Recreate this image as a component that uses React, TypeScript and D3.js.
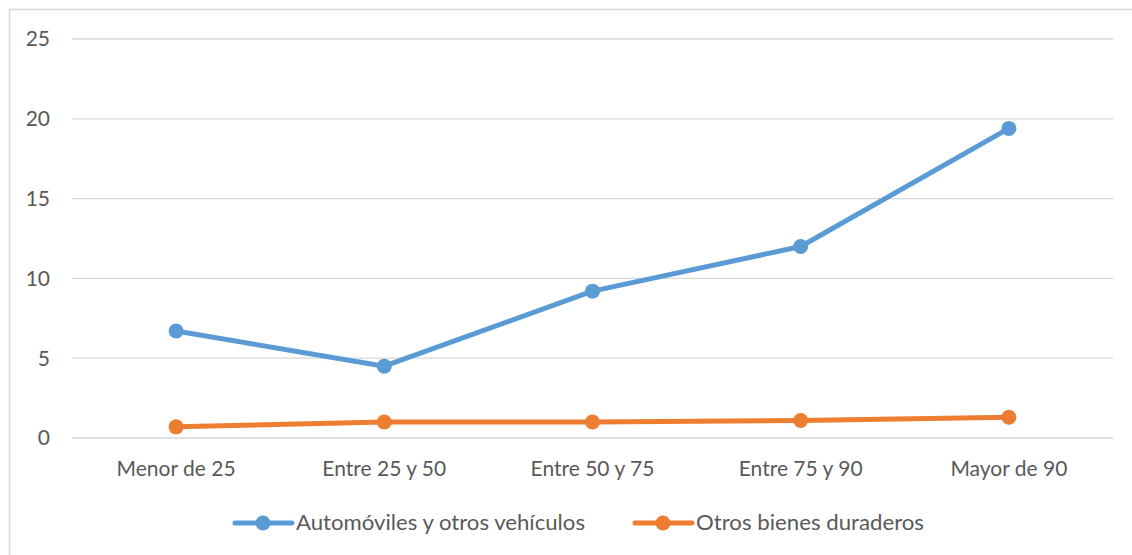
import * as d3 from 'd3';

const categories = ['Menor de 25', 'Entre 25 y 50', 'Entre 50 y 75', 'Entre 75 y 90', 'Mayor de 90'];
const autos = [6.7, 4.5, 9.2, 12.0, 19.4];
const otros = [0.7, 1.0, 1.0, 1.1, 1.3];
const yTicks = [0, 5, 10, 15, 20, 25];

const series = [
  { name: 'Automóviles y otros vehículos', values: autos, color: '#5B9BD5' },
  { name: 'Otros bienes duraderos', values: otros, color: '#ED7D31' },
];

const font = 'Lato, "Open Sans", sans-serif';
const textColor = '#595959';

export default function App() {
  const width = 1132;
  const height = 555;
  const left = 72;
  const right = 1113;
  const top = 39;
  const bottom = 438;

  const x = d3.scaleBand().domain(categories).range([left, right]);
  const y = d3.scaleLinear().domain([0, 25]).range([bottom, top]);
  const cx = (i: number) => (x(categories[i]) || 0) + x.bandwidth() / 2;
  const line = d3
    .line<number>()
    .x((_, i) => cx(i))
    .y(d => y(d));

  // legend positions and text widths
  const legendX = [235, 635];
  const legendW = [289, 228];

  return (
    <svg width={width} height={height} style={{ position: 'absolute', left: 0, top: 0 }}>
      <rect x={0} y={0} width={width} height={height} fill="#fff" />
      <rect x={9.5} y={9.5} width={width + 10} height={height + 10} fill="none" stroke="#d9d9d9" strokeWidth={1.5} />
      {yTicks.map(t => (
        <g key={t}>
          <line x1={left} x2={right} y1={y(t)} y2={y(t)} stroke="#d9d9d9" strokeWidth={1.3} />
          <text x={50} y={y(t)} dy="0.35em" textAnchor="end" fontFamily={font} fontSize={21} fill={textColor}>
            {t}
          </text>
        </g>
      ))}
      {categories.map((c, i) => (
        <text key={c} x={cx(i)} y={469} dy="0.35em" textAnchor="middle" fontFamily={font} fontSize={21} fill={textColor}>
          {c}
        </text>
      ))}
      {series.map(s => (
        <g key={s.name}>
          <path d={line(s.values) || ''} fill="none" stroke={s.color} strokeWidth={5} strokeLinejoin="round" />
          {s.values.map((v, i) => (
            <circle key={i} cx={cx(i)} cy={y(v)} r={7.5} fill={s.color} />
          ))}
        </g>
      ))}
      {series.map((s, i) => (
        <g key={s.name} transform={`translate(${legendX[i]},523)`}>
          <line x1={0} x2={57} y1={0} y2={0} stroke={s.color} strokeWidth={5} strokeLinecap="round" />
          <circle cx={28} cy={0} r={7.5} fill={s.color} />
          <text
            x={61}
            y={0}
            dy="0.35em"
            fontFamily={font}
            fontSize={21}
            fill={textColor}
            textLength={legendW[i]}
            lengthAdjust="spacingAndGlyphs"
          >
            {s.name}
          </text>
        </g>
      ))}
    </svg>
  );
}
